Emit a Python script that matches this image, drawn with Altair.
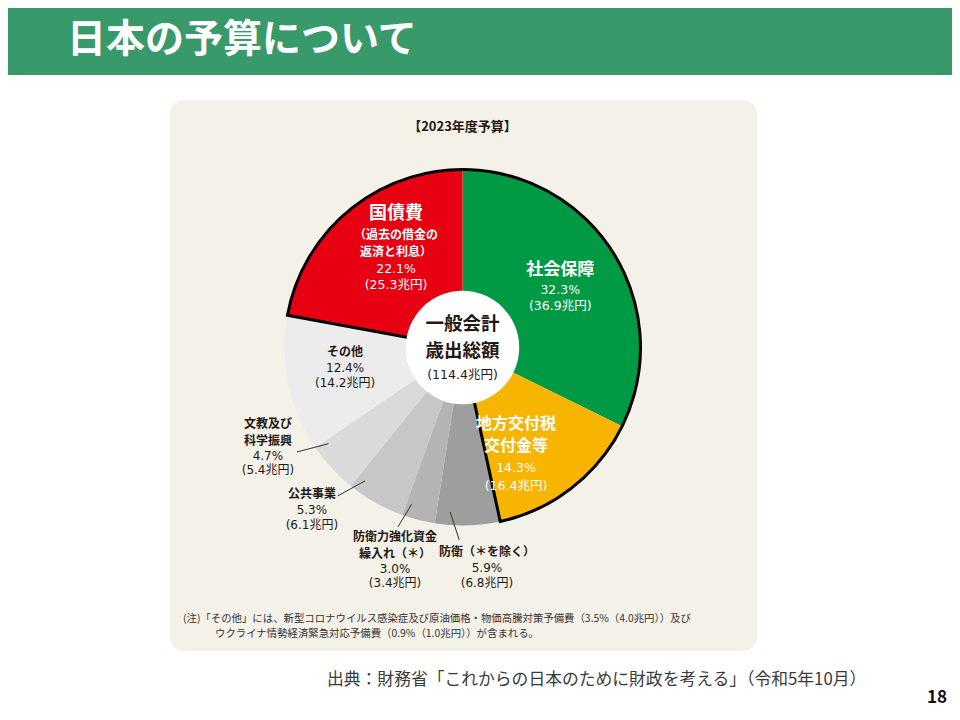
import math
import pandas as pd
import altair as alt

# ---------------- data ----------------
categories = ["社会保障", "地方交付税交付金等", "防衛（＊を除く）", "防衛力強化資金繰入れ（＊）",
              "公共事業", "文教及び科学振興", "その他", "国債費"]
shares = [32.3, 14.3, 5.9, 3.0, 5.3, 4.7, 12.4, 22.1]
amounts = [36.9, 16.4, 6.8, 3.4, 6.1, 5.4, 14.2, 25.3]
name_lines = [["社会保障"], ["地方交付税", "交付金等"], ["防衛（＊を除く）"],
              ["防衛力強化資金", "繰入れ（＊）"], ["公共事業"], ["文教及び", "科学振興"],
              ["その他"], ["国債費", "（過去の借金の", "返済と利息）"]]
total_amount = 114.4
center_lines = ["一般会計", "歳出総額"]
page_title = "日本の予算について"
panel_title = "【2023年度予算】"
note_lines = ["(注)「その他」には、新型コロナウイルス感染症及び原油価格・物価高騰対策予備費（3.5%（4.0兆円））及び",
              "ウクライナ情勢経済緊急対応予備費（0.9%（1.0兆円））が含まれる。"]
source_text = "出典：財務省「これからの日本のために財政を考える」（令和5年10月）"
page_no = "18"

# ---------------- styles / layout ----------------
slice_colors = ["#009A44", "#F7B500", "#9E9E9E", "#B4B4B4", "#C7C7C7", "#DADADA", "#ECECEC", "#E60012"]
label_colors = ["#FFFFFF", "#FFFFFF", "#231815", "#231815", "#231815", "#231815", "#231815", "#FFFFFF"]
FONT = "Noto Sans CJK JP"
NUM_FONT = "DejaVu Sans, Noto Sans CJK JP"
W, H = 944, 704
M = 8
CX, CY = 462.5 - M, 347.5 - M
R_OUT, R_IN = 178, 64

label_dang = [0.9, 11.5, -4.7, 3.2, 13.5, 15.6, 2.5, 5.5]
label_r = [114, 120, 222, 223, 221.5, 218.5, 119, 118]
# per line: (font size, bold, dy)
line_style = [
    [(17, True, -19), (12.5, False, 1), (12.5, False, 17)],
    [(16, True, -31), (16, True, -9), (12.5, False, 13), (12.5, False, 31)],
    [(12, True, -16), (12, False, 0), (12, False, 15)],
    [(12, True, -23), (12, True, -6), (12, False, 9), (12, False, 23)],
    [(12, True, -16), (12, False, 0), (12, False, 15)],
    [(12, True, -23), (12, True, -6), (12, False, 9), (12, False, 23)],
    [(12, True, -15), (12, False, 1), (12, False, 16)],
    [(18, True, -36), (12, True, -15), (12, True, 2), (12.5, False, 19), (12.5, False, 35)],
]
leader_idx = [2, 3, 4, 5]
leader_in_dang = [5.9, 3.6, 6.8, 7.0]
leader_out_dang = [2.6, 5.4, 10.7, 10.4]
leader_in_r = 165
leader_out_r = [192.5, 190.7, 193.8, 195.7]


def polar(angle_deg, r):
    a = math.radians(angle_deg)
    return CX + r * math.sin(a), CY - r * math.cos(a)


starts = []
acc = 0.0
for s in shares:
    starts.append(acc)
    acc += s
mids = [(st + s / 2) * 3.6 for st, s in zip(starts, shares)]

pie_df = pd.DataFrame({"cat": categories, "share": shares, "idx": list(range(len(shares)))})

outline_df = pd.DataFrame({"t0": [starts[7]], "t1": [100 + starts[2]]})

rows = []
for i in range(len(categories)):
    bx, by = polar(mids[i] + label_dang[i], label_r[i])
    texts = name_lines[i] + [f"{shares[i]}%", f"({amounts[i]}兆円)"]
    for t, (sz, bold, dy) in zip(texts, line_style[i]):
        rows.append({"px": bx, "py": by + dy, "text": t, "size": sz,
                     "color": label_colors[i], "bold": bold})
# total in the centre of the doughnut
rows.append({"px": CX, "py": CY + 27, "text": f"({total_amount}兆円)", "size": 12.5,
             "color": "#231815", "bold": False})
lab_df = pd.DataFrame(rows)
bold_df = lab_df[lab_df["bold"]].drop(columns="bold")
norm_df = lab_df[~lab_df["bold"]].drop(columns="bold")

center_df = pd.DataFrame({"px": [CX], "py": [CY - 24], "text": ["\n".join(center_lines)]})

lead_rows = []
for k, i in enumerate(leader_idx):
    x1, y1 = polar(mids[i] + leader_in_dang[k], leader_in_r)
    x2, y2 = polar(mids[i] + leader_out_dang[k], leader_out_r[k])
    lead_rows.append({"x1": x1, "y1": y1, "x2": x2, "y2": y2})
lead_df = pd.DataFrame(lead_rows)

one = pd.DataFrame({"a": [0]})

xs = alt.Scale(domain=[0, W], range=[0, W])
ys = alt.Scale(domain=[0, H], range=[0, H])
ts = alt.Scale(domain=[0, 100], range=[0, 2 * math.pi])

header = alt.Chart(one).mark_rect(color="#38996A").encode(
    x=alt.value(0), x2=alt.value(W), y=alt.value(0), y2=alt.value(75 - M))
panel = alt.Chart(one).mark_rect(color="#F4F1E9", cornerRadius=14).encode(
    x=alt.value(170 - M), x2=alt.value(757 - M), y=alt.value(100 - M), y2=alt.value(651 - M))

title = alt.Chart(one).mark_text(text=page_title, font=FONT, fontSize=39, fontWeight="bold",
                                 color="white", align="left", baseline="middle").encode(
    x=alt.value(67 - M), y=alt.value(40 - M))
ptitle = alt.Chart(one).mark_text(text=panel_title, font=FONT, fontSize=13, fontWeight="bold",
                                  color="#231815", align="center", baseline="middle").encode(
    x=alt.value(462.5 - M), y=alt.value(127 - M))

pie = alt.Chart(pie_df).mark_arc(radius=R_OUT, strokeWidth=0).encode(
    theta=alt.Theta("share:Q", stack=True, scale=ts),
    order=alt.Order("idx:Q"),
    color=alt.Color("cat:N", scale=alt.Scale(domain=categories, range=slice_colors), legend=None),
    x=alt.value(CX), y=alt.value(CY))

outline = alt.Chart(outline_df).mark_arc(radius=R_OUT, fillOpacity=0, stroke="black",
                                         strokeWidth=3, strokeJoin="miter").encode(
    theta=alt.Theta("t0:Q", scale=ts), theta2="t1:Q",
    x=alt.value(CX), y=alt.value(CY))

hole = alt.Chart(one).mark_circle(color="white", opacity=1, size=math.pi * R_IN ** 2).encode(
    x=alt.value(CX), y=alt.value(CY))

leaders = alt.Chart(lead_df).mark_rule(color="#333333", strokeWidth=1).encode(
    x=alt.X("x1:Q", scale=xs, axis=None), y=alt.Y("y1:Q", scale=ys, axis=None),
    x2="x2:Q", y2="y2:Q")

bold_txt = alt.Chart(bold_df).mark_text(font=FONT, fontWeight="bold", baseline="middle",
                                        align="center").encode(
    x=alt.X("px:Q", scale=xs, axis=None), y=alt.Y("py:Q", scale=ys, axis=None),
    text="text:N", size=alt.Size("size:Q", scale=None, legend=None),
    color=alt.Color("color:N", scale=None))

norm_txt = alt.Chart(norm_df).mark_text(font=NUM_FONT, baseline="middle", align="center").encode(
    x=alt.X("px:Q", scale=xs, axis=None), y=alt.Y("py:Q", scale=ys, axis=None),
    text="text:N", size=alt.Size("size:Q", scale=None, legend=None),
    color=alt.Color("color:N", scale=None))

center_txt = alt.Chart(center_df).mark_text(font=FONT, fontWeight="bold", fontSize=18.5,
                                            lineBreak="\n", lineHeight=27, color="#231815",
                                            baseline="middle", align="center").encode(
    x=alt.X("px:Q", scale=xs, axis=None), y=alt.Y("py:Q", scale=ys, axis=None),
    text="text:N")

note1 = alt.Chart(one).mark_text(text=note_lines[0], font=FONT, fontSize=10.4, color="#333333",
                                 align="left", baseline="middle").encode(
    x=alt.value(183 - M), y=alt.value(619 - M))
note2 = alt.Chart(one).mark_text(text=note_lines[1], font=FONT, fontSize=10.4, color="#333333",
                                 align="left", baseline="middle").encode(
    x=alt.value(215 - M), y=alt.value(634 - M))
source = alt.Chart(one).mark_text(text=source_text, font=FONT, fontSize=16.8, color="#3A3A3A",
                                  align="left", baseline="middle").encode(
    x=alt.value(327 - M), y=alt.value(680 - M))
pno = alt.Chart(one).mark_text(text=page_no, font=FONT, fontSize=17, fontWeight="bold",
                               color="#111111", align="center", baseline="middle").encode(
    x=alt.value(937 - M), y=alt.value(698 - M))

chart = alt.layer(header, panel, title, ptitle, pie, outline, hole, leaders,
                  bold_txt, norm_txt, center_txt, note1, note2, source, pno).properties(
    width=W, height=H, padding=0, autosize=alt.AutoSizeParams(type="none"), background="white"
).configure_view(stroke=None)

chart.save("out.html", embed_options={"renderer": "svg", "actions": False})
